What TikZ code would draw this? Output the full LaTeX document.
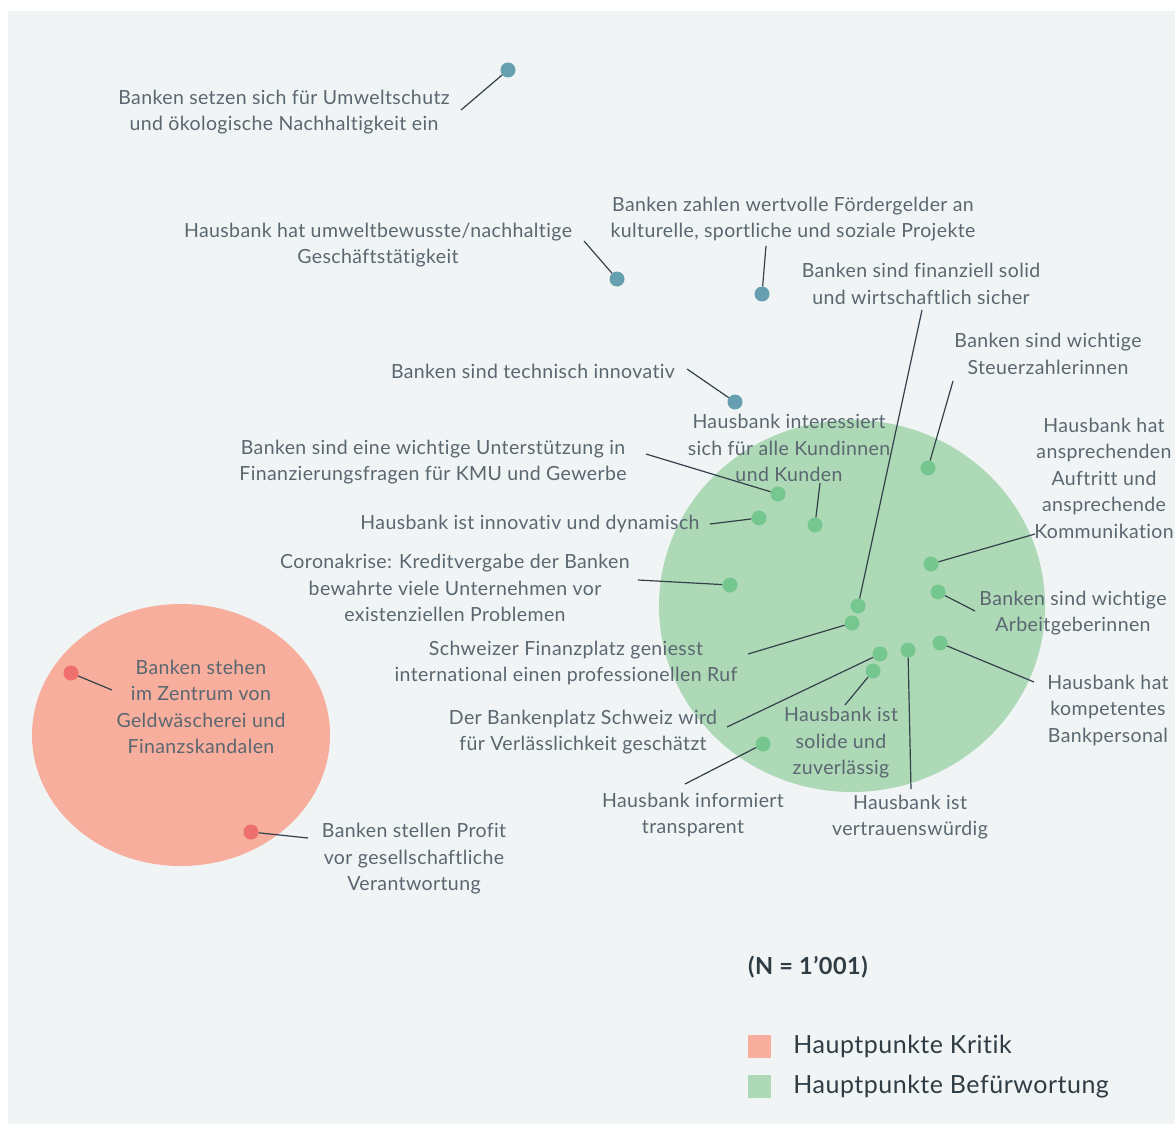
\documentclass[tikz,border=0pt]{standalone}
\usepackage{fontspec}
\setmainfont{Lato}[Ligatures=NoCommon, LetterSpace=2]
\usetikzlibrary{positioning}
\definecolor{bgcol}{HTML}{F0F4F5}
\definecolor{txtcol}{HTML}{5B6770}
\definecolor{darkcol}{HTML}{2F3C44}
\definecolor{linecol}{HTML}{34414A}
\definecolor{pale green}{HTML}{ADD9B7}
\definecolor{pale red}{HTML}{F7AE9C}
\definecolor{dotgreen}{HTML}{76C690}
\definecolor{dotred}{HTML}{EE6F6C}
\definecolor{dotblue}{HTML}{659FB0}
\tikzset{
  lbl/.style={text=txtcol, align=center, inner sep=0pt, yshift=-2pt, font=\fontsize{19.5}{26.5}\selectfont},
  pt/.style={circle, inner sep=0pt, minimum size=15pt},
  ptb/.style={pt, fill=dotblue},
  ptg/.style={pt, fill=dotgreen},
  ptr/.style={pt, fill=dotred},
  con/.style={draw=linecol, line width=1.2pt},
  keybox/.style={minimum size=23pt, inner sep=0pt},
  keytext/.style={text=darkcol, inner sep=0pt, anchor=west, font=\fontsize{25}{28}\selectfont}
}
\begin{document}
\begin{tikzpicture}[x=1pt,y=-1pt]
  \clip (0,0) rectangle (1175,1124);
  \fill[white] (0,0) rectangle (1175,1124);
  \fill[bgcol] (8,11) rectangle (1175,1124);

  \fill[pale green] (852,606) ellipse [x radius=193, y radius=186];
  \fill[pale red] (181,735) ellipse [x radius=149, y radius=131];

  \node[ptb] (d1) at (508,70) {};
  \node[ptb] (d2) at (617,279) {};
  \node[ptb] (d3) at (762,294) {};
  \node[ptb] (d5) at (735,402) {};

  \node[ptg] (d4) at (858,606) {};
  \node[ptg] (d6) at (928,468) {};
  \node[ptg] (d7) at (815,525) {};
  \node[ptg] (d8) at (778,494) {};
  \node[ptg] (d9) at (759,518) {};
  \node[ptg] (d10) at (730,585) {};
  \node[ptg] (d11) at (931,564) {};
  \node[ptg] (d12) at (938,592) {};
  \node[ptg] (d13) at (940,643) {};
  \node[ptg] (d14) at (852,623) {};
  \node[ptg] (d15) at (880,654) {};
  \node[ptg] (d16) at (873,671) {};
  \node[ptg] (d17) at (908,650) {};
  \node[ptg] (d18) at (763,744) {};

  \node[ptr] (d19) at (71,673) {};
  \node[ptr] (d20) at (251,832) {};

  \coordinate (e1) at (461,110);
  \coordinate (e2) at (584,241);
  \coordinate (e3) at (766,246);
  \coordinate (e4) at (922,310);
  \coordinate (e5) at (687,369);
  \coordinate (e6) at (953,381);
  \coordinate (e7) at (820,483);
  \coordinate (e8) at (646,454);
  \coordinate (e9) at (710,524);
  \coordinate (e10) at (638,580);
  \coordinate (e11) at (1035,534);
  \coordinate (e12) at (975,611);
  \coordinate (e13) at (1034,682);
  \coordinate (e14) at (748,654);
  \coordinate (e15) at (727,727);
  \coordinate (e16) at (845,705);
  \coordinate (e17) at (911,789);
  \coordinate (e18) at (685,784);
  \coordinate (e19) at (112,690);
  \coordinate (e20) at (308,838);

  \draw[con] (e1) -- (d1);
  \draw[con] (e2) -- (d2);
  \draw[con] (e3) -- (d3);
  \draw[con] (e4) -- (d4);
  \draw[con] (e5) -- (d5);
  \draw[con] (e6) -- (d6);
  \draw[con] (e7) -- (d7);
  \draw[con] (e8) -- (d8);
  \draw[con] (e9) -- (d9);
  \draw[con] (e10) -- (d10);
  \draw[con] (e11) -- (d11);
  \draw[con] (e12) -- (d12);
  \draw[con] (e13) -- (d13);
  \draw[con] (e14) -- (d14);
  \draw[con] (e15) -- (d15);
  \draw[con] (e16) -- (d16);
  \draw[con] (e17) -- (d17);
  \draw[con] (e18) -- (d18);
  \draw[con] (e19) -- (d19);
  \draw[con] (e20) -- (d20);

  \node[lbl] (l1) at (284,110) {Banken setzen sich für Umweltschutz\\und ökologische Nachhaltigkeit ein};
  \node[lbl] (l2) at (378,243) {Hausbank hat umweltbewusste/nachhaltige\\Geschäftstätigkeit};
  \node[lbl] (l3) at (793,217) {Banken zahlen wertvolle Fördergelder an\\kulturelle, sportliche und soziale Projekte};
  \node[lbl] (l4) at (921,282) {Banken sind finanziell solid\\und wirtschaftlich sicher};
  \node[lbl] (l5) at (533,369) {Banken sind technisch innovativ};
  \node[lbl] (l6) at (1048,352) {Banken sind wichtige\\Steuerzahlerinnen};
  \node[lbl] (l7) at (789,446) {Hausbank interessiert\\sich für alle Kundinnen\\und Kunden};
  \node[lbl] (l8) at (433,460) {Banken sind eine wichtige Unterstützung in\\Finanzierungsfragen für KMU und Gewerbe};
  \node[lbl] (l9) at (530,522) {Hausbank ist innovativ und dynamisch};
  \node[lbl] (l10) at (455,586) {Coronakrise: Kreditvergabe der Banken\\bewahrte viele Unternehmen vor\\existenziellen Problemen};
  \node[lbl] (l11) at (1104,476) {Hausbank hat\\ansprechenden\\Auftritt und\\ansprechende\\Kommunikation};
  \node[lbl] (l12) at (1073,611) {Banken sind wichtige\\Arbeitgeberinnen};
  \node[lbl] (l13) at (1108,708) {Hausbank hat\\kompetentes\\Bankpersonal};
  \node[lbl] (l14) at (566,661) {Schweizer Finanzplatz geniesst\\international einen professionellen Ruf};
  \node[lbl] (l15) at (583,730) {Der Bankenplatz Schweiz wird\\für Verlässlichkeit geschätzt};
  \node[lbl] (l16) at (841,741) {Hausbank ist\\solide und\\zuverlässig};
  \node[lbl] (l17) at (910,815) {Hausbank ist\\vertrauenswürdig};
  \node[lbl] (l18) at (693,813) {Hausbank informiert\\transparent};
  \node[lbl] (l19) at (201,705) {Banken stehen\\im Zentrum von\\Geldwäscherei und\\Finanzskandalen};
  \node[lbl] (l20) at (414,857) {Banken stellen Profit\\vor gesellschaftliche\\Verantwortung};

  \node[text=darkcol, inner sep=0pt, anchor=west, font=\bfseries\fontsize{23.5}{26}\selectfont] (n) at (748,967) {(N = 1’001)};
  \node[keybox, fill=pale red] (k1) at (759.5,1046.5) {};
  \node[keybox, fill=pale green] (k2) at (759.5,1086.5) {};
  \node[keytext, right=22pt of k1] (kt1) {Hauptpunkte Kritik};
  \node[keytext, right=22pt of k2] (kt2) {Hauptpunkte Befürwortung};
\end{tikzpicture}
\end{document}
